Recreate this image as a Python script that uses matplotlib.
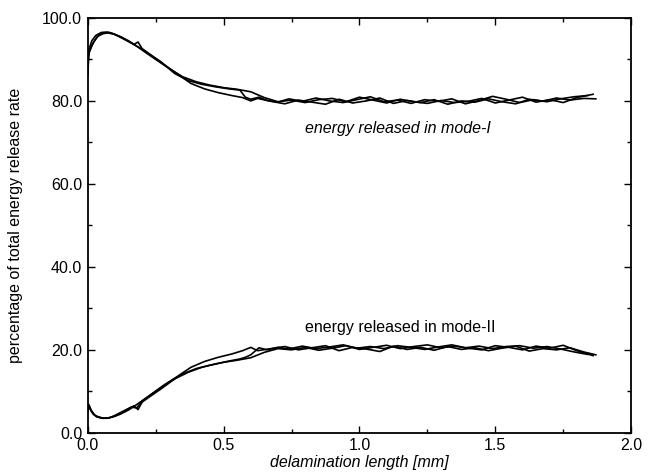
import matplotlib
matplotlib.use("Agg")
import matplotlib.pyplot as plt
from matplotlib.ticker import MultipleLocator

plt.rcParams['font.family'] = ['Liberation Sans', 'DejaVu Sans']

# Mode-I curves
x_a = [0, 0.005, 0.015, 0.03, 0.05, 0.07, 0.09, 0.12, 0.15, 0.18, 0.21, 0.25, 0.3, 0.35, 0.4, 0.45, 0.5,
       0.55, 0.6, 0.65, 0.7, 0.75, 0.8, 0.85, 0.9, 0.95, 1.0, 1.05, 1.1, 1.15, 1.2, 1.25, 1.3, 1.35, 1.4,
       1.45, 1.5, 1.55, 1.6, 1.65, 1.7, 1.75, 1.8, 1.86]
mode1_a = [88, 92.5, 94.5, 95.8, 96.5, 96.6, 96.3, 95.5, 94.5, 93.2, 91.8, 90.0, 87.8, 85.8, 84.6, 83.8,
           83.2, 82.8, 82.2, 80.8, 79.8, 80.2, 79.6, 80.3, 80.6, 79.8, 80.9, 80.2, 79.5, 80.4, 79.8, 79.4,
           80.1, 79.6, 79.9, 80.6, 79.5, 80.2, 80.9, 79.7, 80.3, 79.6, 80.8, 81.6]
mode2_a = [5.0, 6.5, 5.0, 4.0, 3.6, 3.5, 3.8, 4.5, 5.5, 6.8, 8.2, 10.0, 12.2, 14.2, 15.5, 16.3, 17.0,
           17.5, 18.1, 19.4, 20.3, 20.0, 20.6, 19.9, 20.4, 21.0, 20.1, 20.6, 21.1, 20.3, 20.8, 21.2, 20.5,
           20.9, 20.4, 20.0, 21.0, 20.6, 20.0, 20.9, 20.4, 21.1, 19.8, 18.6]

x_b = [0, 0.004, 0.012, 0.025, 0.04, 0.06, 0.08, 0.1, 0.13, 0.16, 0.18, 0.2, 0.24, 0.28, 0.33, 0.38,
       0.43, 0.48, 0.53, 0.57, 0.6, 0.625, 0.675, 0.725, 0.775, 0.825, 0.875, 0.925, 0.975, 1.025,
       1.075, 1.125, 1.175, 1.225, 1.275, 1.325, 1.375, 1.425, 1.475, 1.525, 1.575, 1.625, 1.675,
       1.725, 1.775, 1.825, 1.87]
mode1_b = [86, 91.5, 93.0, 94.5, 95.8, 96.4, 96.5, 96.0, 95.0, 94.0, 93.2, 92.5, 90.6, 88.8, 86.5, 84.2,
           82.9, 82.0, 81.3, 80.8, 80.0, 80.6, 79.9, 79.3, 80.2, 79.7, 79.2, 80.4, 79.5, 80.0, 80.7, 79.4,
           80.1, 79.6, 80.3, 79.2, 80.0, 79.7, 80.5, 79.8, 79.3, 80.4, 79.9, 80.7, 80.2, 80.6, 80.5]
mode2_b = [6.0, 6.8, 5.5, 4.3, 3.8, 3.5, 3.6, 4.2, 5.2, 6.2, 6.0, 7.6, 9.6, 11.5, 13.6, 15.8, 17.2,
           18.2, 19.0, 19.8, 20.6, 19.8, 20.3, 20.8, 20.0, 20.5, 21.0, 19.8, 20.6, 20.2, 19.6, 20.9, 20.1,
           20.6, 19.9, 20.8, 20.1, 20.5, 19.8, 20.4, 20.9, 19.7, 20.3, 20.0, 20.5, 19.5, 18.8]

x_c = [0, 0.006, 0.02, 0.035, 0.055, 0.075, 0.1, 0.125, 0.15, 0.17, 0.185, 0.2, 0.23, 0.27, 0.32, 0.37,
       0.42, 0.47, 0.52, 0.56, 0.58, 0.6, 0.63, 0.66, 0.7, 0.74, 0.79, 0.84, 0.89, 0.94, 0.99, 1.04,
       1.09, 1.14, 1.19, 1.24, 1.29, 1.34, 1.39, 1.44, 1.49, 1.54, 1.59, 1.64, 1.69, 1.74, 1.79, 1.84]
mode1_c = [90, 91.8, 94.0, 95.5, 96.2, 96.4, 96.0, 95.3, 94.3, 93.6, 94.2, 92.6, 91.2, 89.4, 86.6, 84.9,
           84.0, 83.4, 82.9, 82.6, 80.9, 80.4, 80.9, 80.1, 79.7, 80.5, 79.9, 80.7, 80.0, 79.6, 80.3, 81.0,
           79.8, 80.2, 79.4, 80.3, 79.9, 80.5, 79.3, 80.1, 81.1, 80.4, 79.6, 80.3, 79.8, 80.5, 81.0, 81.3]
mode2_c = [7.0, 6.0, 4.5, 3.8, 3.5, 3.6, 4.0, 4.8, 5.8, 6.5, 5.6, 7.4, 8.8, 10.6, 13.0, 14.6, 15.8,
           16.6, 17.3, 17.8, 18.2, 18.8, 20.5, 20.0, 20.6, 20.2, 20.9, 20.3, 20.7, 21.2, 20.4, 20.8, 20.3,
           21.0, 20.6, 20.1, 20.7, 21.2, 20.5, 20.9, 20.3, 20.8, 21.0, 20.4, 20.8, 20.2, 19.5, 18.9]

x_ticks = [0.0, 0.5, 1.0, 1.5, 2.0]
y_ticks = [0.0, 20.0, 40.0, 60.0, 80.0, 100.0]

fig = plt.figure(figsize=(6.5, 4.72), dpi=100)
ax = fig.add_axes([0.135, 0.083, 0.836, 0.879])

for xs, ys in [(x_a, mode1_a), (x_b, mode1_b), (x_c, mode1_c),
               (x_a, mode2_a), (x_b, mode2_b), (x_c, mode2_c)]:
    ax.plot(xs, ys, color='black', lw=1.2)

ax.set_xlim(0, 2.0)
ax.set_ylim(0, 100)
ax.set_xticks(x_ticks)
ax.set_xticklabels([f"{v:.1f}" for v in x_ticks])
ax.set_yticks(y_ticks)
ax.set_yticklabels([f"{v:.1f}" for v in y_ticks])
ax.xaxis.set_minor_locator(MultipleLocator(0.25))
ax.yaxis.set_minor_locator(MultipleLocator(10))
ax.tick_params(which='both', direction='in', top=True, right=True, labelsize=11.5, width=1)
ax.tick_params(which='major', length=5, pad=4)
ax.tick_params(which='minor', length=3)
for s in ax.spines.values():
    s.set_linewidth(1.3)

ax.set_xlabel("delamination length [mm]", fontsize=11.5, style='italic', labelpad=1)
ax.set_ylabel("percentage of total energy release rate", fontsize=11.5, labelpad=14)

ax.text(1.14, 73.4, "energy released in mode-I", fontsize=11.5, style='italic', ha='center', va='center')
ax.text(1.15, 25.4, "energy released in mode-II", fontsize=11.5, ha='center', va='center')

fig.savefig("out.png", dpi=100)
